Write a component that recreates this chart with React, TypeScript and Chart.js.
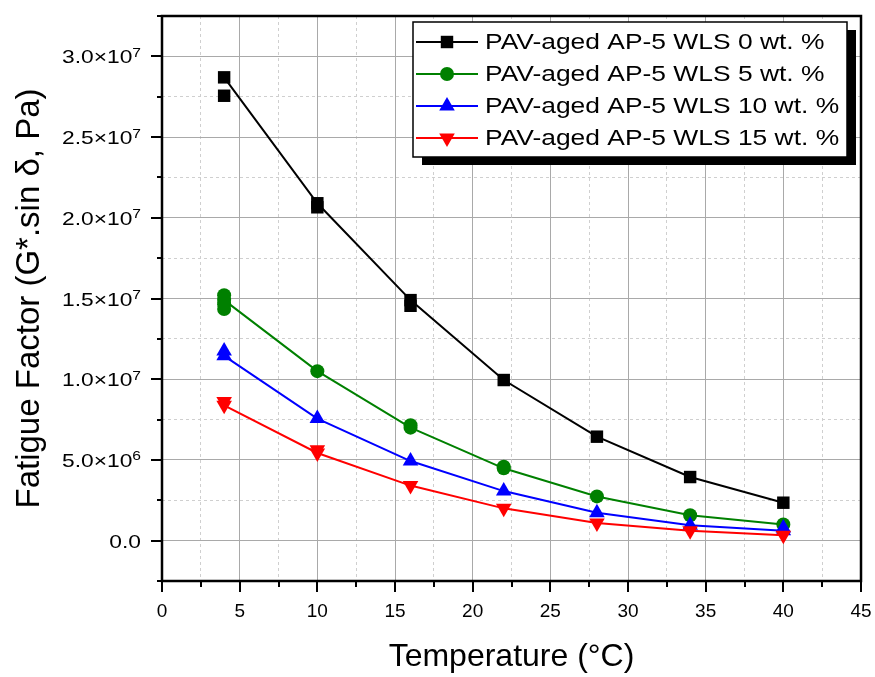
import React, { useEffect, useRef } from 'react';
import { Chart, registerables } from 'chart.js';

Chart.register(...registerables);

// ---- data ----
const temperatures = [4, 10, 16, 22, 28, 34, 40];
const wls0 = [2.87e7, 2.09e7, 1.49e7, 9.95e6, 6.44e6, 3.94e6, 2.35e6];
const wls5 = [1.49e7, 1.05e7, 7.0e6, 4.48e6, 2.74e6, 1.57e6, 1.0e6];
const wls10 = [1.145e7, 7.56e6, 4.93e6, 3.07e6, 1.73e6, 0.95e6, 0.62e6];
const wls15 = [8.38e6, 5.43e6, 3.41e6, 2.0e6, 1.1e6, 0.61e6, 0.33e6];

// replicate measurements shown as extra markers
const wls0RepTemps = [4, 10, 16];
const wls0RepValues = [2.756e7, 2.065e7, 1.455e7];
const wls5RepTemps = [4, 4, 4, 16, 22];
const wls5RepValues = [1.52e7, 1.465e7, 1.435e7, 7.15e6, 4.58e6];
const wls10RepTemps = [4, 40];
const wls10RepValues = [1.175e7, 0.78e6];
const wls15RepTemps = [4, 10];
const wls15RepValues = [8.62e6, 5.63e6];

const seriesLabels = [
  'PAV-aged AP-5 WLS 0 wt. %',
  'PAV-aged AP-5 WLS 5 wt. %',
  'PAV-aged AP-5 WLS 10 wt. %',
  'PAV-aged AP-5 WLS 15 wt. %',
];

const xTickValues = [0, 5, 10, 15, 20, 25, 30, 35, 40, 45];
const xTickLabels = ['0', '5', '10', '15', '20', '25', '30', '35', '40', '45'];
const yTickValues = [0, 5e6, 1e7, 1.5e7, 2e7, 2.5e7, 3e7];
const yTickMantissas = ['0.0', '5.0×10', '1.0×10', '1.5×10', '2.0×10', '2.5×10', '3.0×10'];
const yTickExponents = ['', '6', '7', '7', '7', '7', '7'];

const xTitle = 'Temperature (°C)';
const yTitle = 'Fatigue Factor (G*.sin δ, Pa)';

// ---- styles ----
const FONT = "'Liberation Sans', Arial, Helvetica, sans-serif";
const colors = ['#000000', '#008000', '#0000ff', '#ff0000'];
const styles = ['rect', 'circle', 'triangle', 'triangle'];
const rotations = [0, 0, 0, 180];
const radii = [8.8, 7, 9, 9];
const TEXT_STRETCH = 1.2;

const X_STEP = 2.5;
const Y_STEP = 2.5e6;

function isMajor(v: number, step: number) {
  return Math.abs(Math.round(v / step)) % 2 === 0;
}

function drawMarker(ctx: CanvasRenderingContext2D, idx: number, cx: number, cy: number) {
  const r = radii[idx];
  ctx.fillStyle = colors[idx];
  ctx.beginPath();
  if (idx === 0) {
    const s = r * Math.SQRT1_2;
    ctx.rect(cx - s, cy - s, 2 * s, 2 * s);
  } else if (idx === 1) {
    ctx.arc(cx, cy, r, 0, Math.PI * 2);
  } else {
    const dir = idx === 3 ? -1 : 1;
    ctx.moveTo(cx, cy - dir * r);
    ctx.lineTo(cx + r * Math.sin(Math.PI * 2 / 3), cy + dir * r / 2);
    ctx.lineTo(cx - r * Math.sin(Math.PI * 2 / 3), cy + dir * r / 2);
    ctx.closePath();
  }
  ctx.fill();
}

function stretchedText(ctx: CanvasRenderingContext2D, text: string, x: number, y: number, font: string) {
  ctx.save();
  ctx.translate(x, y);
  ctx.scale(TEXT_STRETCH, 1);
  ctx.font = font;
  ctx.fillText(text, 0, 0);
  ctx.restore();
}

function stretchedWidth(ctx: CanvasRenderingContext2D, text: string, font: string) {
  ctx.save();
  ctx.font = font;
  const w = ctx.measureText(text).width * TEXT_STRETCH;
  ctx.restore();
  return w;
}

const decorPlugin = {
  id: 'decor',
  afterDraw(chart: any) {
    const { ctx, chartArea: a, scales } = chart;
    const xs = scales.x;
    const ys = scales.y;
    ctx.save();
    // tick marks (outward)
    ctx.strokeStyle = '#000';
    ctx.lineWidth = 2;
    ys.ticks.forEach((t: any) => {
      const py = Math.round(ys.getPixelForValue(t.value));
      const len = isMajor(t.value, Y_STEP) ? 11 : 5;
      ctx.beginPath();
      ctx.moveTo(a.left - len, py);
      ctx.lineTo(a.left, py);
      ctx.stroke();
    });
    xs.ticks.forEach((t: any) => {
      const px = Math.round(xs.getPixelForValue(t.value));
      const len = isMajor(t.value, X_STEP) ? 11 : 6;
      ctx.beginPath();
      ctx.moveTo(px, a.bottom);
      ctx.lineTo(px, a.bottom + len);
      ctx.stroke();
    });

    // y tick labels with superscript exponents
    const baseFont = `19px ${FONT}`;
    const supFont = `13px ${FONT}`;
    ctx.fillStyle = '#000';
    ctx.textAlign = 'left';
    ctx.textBaseline = 'alphabetic';
    yTickValues.forEach((v, k) => {
      const py = ys.getPixelForValue(v);
      const mant = yTickMantissas[k];
      const exp = yTickExponents[k];
      const wb = stretchedWidth(ctx, mant, baseFont);
      const we = exp ? stretchedWidth(ctx, exp, supFont) : 0;
      const x0 = a.left - 21 - wb - we;
      stretchedText(ctx, mant, x0, py + 7, baseFont);
      if (exp) stretchedText(ctx, exp, x0 + wb, py + 0.5, supFont);
    });

    // frame
    ctx.lineWidth = 2.5;
    ctx.strokeStyle = '#000';
    ctx.strokeRect(a.left, a.top, a.right - a.left, a.bottom - a.top);

    // legend
    const lx = 413, ly = 22, lw = 434, lh = 135;
    ctx.fillStyle = '#000';
    ctx.fillRect(lx + 9, ly + 8, lw, lh);
    ctx.fillStyle = '#fff';
    ctx.fillRect(lx, ly, lw, lh);
    ctx.strokeStyle = '#000';
    ctx.lineWidth = 1.5;
    ctx.strokeRect(lx, ly, lw, lh);
    const rowY = [42, 74, 106, 138];
    seriesLabels.forEach((label, i) => {
      const yy = rowY[i];
      ctx.strokeStyle = colors[i];
      ctx.lineWidth = 2;
      ctx.beginPath();
      ctx.moveTo(416, yy);
      ctx.lineTo(478, yy);
      ctx.stroke();
      drawMarker(ctx, i, 447, yy);
      ctx.fillStyle = '#000';
      ctx.textBaseline = 'middle';
      ctx.textAlign = 'left';
      stretchedText(ctx, label, 485, yy + 1, `22px ${FONT}`);
    });
    ctx.restore();
  },
};

function toPoints(xs: number[], ys: number[]) {
  return xs.map((x, i) => ({ x, y: ys[i] }));
}

export default function App() {
  const ref = useRef<HTMLCanvasElement | null>(null);

  useEffect(() => {
    if (!ref.current) return;
    const mainSeries = [wls0, wls5, wls10, wls15];
    const repT = [wls0RepTemps, wls5RepTemps, wls10RepTemps, wls15RepTemps];
    const repV = [wls0RepValues, wls5RepValues, wls10RepValues, wls15RepValues];

    const datasets: any[] = [];
    mainSeries.forEach((vals, i) => {
      datasets.push({
        label: seriesLabels[i],
        data: toPoints(temperatures, vals),
        borderColor: colors[i],
        backgroundColor: colors[i],
        borderWidth: 2,
        showLine: true,
        tension: 0,
        pointStyle: styles[i],
        pointRotation: rotations[i],
        pointRadius: radii[i],
        pointHoverRadius: radii[i],
        pointBorderWidth: 0,
        pointBackgroundColor: colors[i],
        pointBorderColor: colors[i],
        order: 10 - i,
      });
      datasets.push({
        label: seriesLabels[i] + ' (replicates)',
        data: toPoints(repT[i], repV[i]),
        borderColor: colors[i],
        backgroundColor: colors[i],
        showLine: false,
        pointStyle: styles[i],
        pointRotation: rotations[i],
        pointRadius: radii[i],
        pointHoverRadius: radii[i],
        pointBorderWidth: 0,
        pointBackgroundColor: colors[i],
        pointBorderColor: colors[i],
        order: 10 - i,
      });
    });

    const chart = new Chart(ref.current, {
      type: 'scatter',
      data: { datasets },
      plugins: [decorPlugin],
      options: {
        animation: false,
        responsive: false,
        devicePixelRatio: 1,
        events: [],
        layout: { padding: { left: 0, right: 14, top: 16, bottom: 0 } },
        plugins: {
          legend: { display: false },
          tooltip: { enabled: false },
          title: { display: false },
        },
        scales: {
          x: {
            type: 'linear',
            min: 0,
            max: 45,
            afterFit: (s: any) => {
              s.height = 96;
              s.paddingLeft = 0;
              s.paddingRight = 0;
              s.paddingTop = 0;
              s.paddingBottom = 0;
            },
            ticks: {
              stepSize: X_STEP,
              autoSkip: false,
              maxRotation: 0,
              padding: 19,
              color: '#000',
              font: { family: FONT, size: 19 },
              callback: (v: any) => {
                const k = xTickValues.indexOf(Number(v));
                return k >= 0 ? xTickLabels[k] : '';
              },
            },
            grid: {
              drawTicks: false,
              lineWidth: 1,
              color: (c: any) => (c.tick && isMajor(c.tick.value, X_STEP) ? '#a9a9a9' : '#cfcfcf'),
            },
            border: {
              display: false,
              dash: (c: any) => (c.tick && isMajor(c.tick.value, X_STEP) ? [] : [3, 3]),
            },
            title: {
              display: true,
              text: xTitle,
              color: '#000',
              font: { family: FONT, size: 32 },
              padding: { top: 0, bottom: 1 },
            },
          },
          y: {
            type: 'linear',
            min: -2.5e6,
            max: 3.25e7,
            afterFit: (s: any) => {
              s.width = 162;
              s.paddingLeft = 0;
              s.paddingRight = 0;
              s.paddingTop = 0;
              s.paddingBottom = 0;
            },
            ticks: {
              stepSize: Y_STEP,
              autoSkip: false,
              display: false,
            },
            grid: {
              drawTicks: false,
              lineWidth: 1,
              color: (c: any) => (c.tick && isMajor(c.tick.value, Y_STEP) ? '#a9a9a9' : '#cfcfcf'),
            },
            border: {
              display: false,
              dash: (c: any) => (c.tick && isMajor(c.tick.value, Y_STEP) ? [] : [3, 3]),
            },
            title: {
              display: true,
              text: yTitle,
              color: '#000',
              font: { family: FONT, size: 33 },
              padding: { top: 10, bottom: 0 },
            },
          },
        },
      } as any,
    });
    return () => chart.destroy();
  }, []);

  return (
    <div style={{ position: 'absolute', left: 0, top: 0, width: 875, height: 677, background: '#fff' }}>
      <canvas ref={ref} width={875} height={677} style={{ display: 'block', width: 875, height: 677 }} />
    </div>
  );
}
